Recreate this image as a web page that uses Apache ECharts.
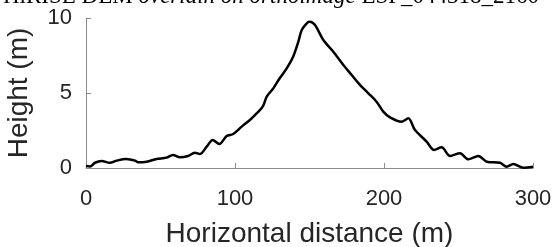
<!DOCTYPE html>
<html>
<head>
<meta charset="utf-8">
<script src="https://cdn.jsdelivr.net/npm/echarts@6/dist/echarts.min.js"></script>
<style>
html,body{margin:0;padding:0;background:#fff;}
#main{width:557px;height:247px;}
</style>
</head>
<body>
<div id="main"></div>
<script>
// profile along the transect
var distance = [0, 2.7, 6, 10.5, 16, 20.6, 27, 33, 35, 40.7, 47.4, 54, 58.4, 63, 68.5, 73, 76.5, 81, 85, 89.5,
  94.4, 98.8, 104.5, 110, 114.5, 118.6, 121.3, 125.7, 130, 134.7, 139, 142.5, 144.8, 149, 150.3, 153.7, 159.3,
  166, 172.7, 178.3, 184, 189.5, 195, 199.5, 204, 211.9, 216.3, 220.8, 228.6, 233.6, 238.7, 244.3, 251, 256.6,
  263.3, 269, 277.9, 282.3, 286.8, 293.5, 300];
var height = [0.13, 0.1, 0.35, 0.47, 0.35, 0.49, 0.6, 0.49, 0.38, 0.42, 0.6, 0.69, 0.87, 0.71, 0.8, 1.02, 0.93, 1.42, 1.87, 1.6,
  2.13, 2.27, 2.76, 3.2, 3.64, 4.09, 4.76, 5.31, 5.98, 6.64, 7.42, 8.42, 9.2, 9.72, 9.75, 9.53, 8.53,
  7.75, 6.87, 6.2, 5.53, 4.98, 4.42, 3.76, 3.38, 3.09, 3.31, 2.53, 1.76, 1.2, 1.38, 0.8, 0.98, 0.58,
  0.8, 0.42, 0.35, 0.09, 0.27, 0.02, 0.09];
var xTicks = [0, 100, 200, 300];
var yTicks = [0, 5, 10];

var points = [];
for (var i = 0; i < distance.length; i++) {
  points.push([distance[i], height[i]]);
}

var chart = echarts.init(document.getElementById('main'));
var axisGray = '#8c8c8c';
var txt = '#262626';

chart.setOption({
  animation: false,
  title: {
    left: -2,
    top: -20,
    text: '{a|HiRISE DEM }{b|overlain on orthoimage }{a|ESP_044318_2160}',
    textStyle: {
      fontWeight: 'normal',
      rich: {
        a: { fontFamily: 'Liberation Serif', fontSize: 23, fontWeight: 'normal', color: '#000' },
        b: { fontFamily: 'Liberation Serif', fontSize: 23, fontWeight: 'normal', fontStyle: 'italic', color: '#000' }
      }
    }
  },
  grid: { left: 86, right: 24, top: 18, bottom: 79, outerBoundsMode: 'none', containLabel: false },
  xAxis: {
    type: 'value',
    min: 0,
    max: 300,
    interval: 100,
    name: 'Horizontal distance (m)',
    nameLocation: 'middle',
    nameGap: 52,
    nameTextStyle: { fontFamily: 'Liberation Sans', fontSize: 28, color: txt },
    axisLine: { show: true, lineStyle: { color: axisGray, width: 1 } },
    axisTick: { show: true, inside: true, length: 5, lineStyle: { color: axisGray } },
    axisLabel: {
      margin: 20,
      fontFamily: 'Liberation Sans', fontSize: 22, color: txt,
      formatter: function (v) { return xTicks.indexOf(v) >= 0 ? String(v) : ''; }
    },
    splitLine: { show: false }
  },
  yAxis: {
    type: 'value',
    min: 0,
    max: 10,
    interval: 5,
    name: 'Height (m)',
    nameLocation: 'middle',
    nameGap: 53,
    nameTextStyle: { fontFamily: 'Liberation Sans', fontSize: 28, color: txt },
    axisLine: { show: true, lineStyle: { color: axisGray, width: 1 } },
    axisTick: { show: true, inside: true, length: 5, lineStyle: { color: axisGray } },
    axisLabel: {
      margin: 14,
      fontFamily: 'Liberation Sans', fontSize: 22, color: txt,
      formatter: function (v) { return yTicks.indexOf(v) >= 0 ? String(v) : ''; }
    },
    splitLine: { show: false }
  },
  series: [{
    type: 'line',
    data: points,
    smooth: 0.3,
    showSymbol: false,
    lineStyle: { color: '#000', width: 2.5 }
  }]
});
</script>
</body>
</html>
